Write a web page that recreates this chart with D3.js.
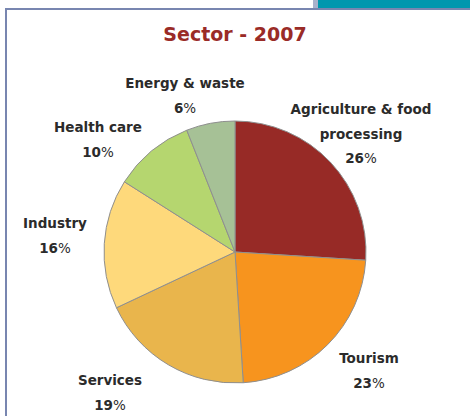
<!DOCTYPE html>
<html><head><meta charset="utf-8">
<script src="https://cdn.jsdelivr.net/npm/d3@7"></script>
<style>html,body{margin:0;padding:0;background:#fff;}svg{display:block;}</style>
</head><body>
<script>
const title = "Sector - 2007";
const categories = ["Agriculture & food processing", "Tourism", "Services", "Industry", "Health care", "Energy & waste"];
const values = [26, 23, 19, 16, 10, 6];
const colors = ["#972A26", "#F7941E", "#E9B54C", "#FED97B", "#B5D66F", "#A6C196"];
const labelLines = [["Agriculture & food", "processing"], ["Tourism"], ["Services"], ["Industry"], ["Health care"], ["Energy & waste"]];

const W = 470, H = 416;
const svg = d3.select("body").append("svg").attr("width", W).attr("height", H);

// frame
svg.append("rect").attr("x", 5).attr("y", 8).attr("width", W).attr("height", 2).attr("fill", "#7886B0");
svg.append("rect").attr("x", 5).attr("y", 8).attr("width", 2).attr("height", H).attr("fill", "#7886B0");
svg.append("rect").attr("x", 313).attr("y", 0).attr("width", 5).attr("height", 8).attr("fill", "#A9B2CC");
svg.append("rect").attr("x", 318).attr("y", 0).attr("width", W - 318).attr("height", 8).attr("fill", "#0097AE");

const FONT = "DejaVu Sans, Verdana, sans-serif";
svg.append("text").attr("x", 235).attr("y", 41).attr("text-anchor", "middle")
  .attr("font-family", FONT).attr("font-weight", "bold")
  .attr("font-size", 19).attr("fill", "#9A2B27").text(title);

const cx = 235, cy = 252, r = 131;
const pie = d3.pie().sort(null).value(d => d)(values);
const arc = d3.arc().innerRadius(0).outerRadius(r);
const g = svg.append("g").attr("transform", `translate(${cx},${cy})`);
g.selectAll("path").data(pie).join("path").attr("d", arc)
  .attr("fill", (d, i) => colors[i]).attr("stroke", "#8f8f8f").attr("stroke-width", 1);

// label layout: offset of each label block (centre x, first baseline) from the pie centre
const labelOffset = [[126, -138], [134, 111], [-125, 133], [-180, -24], [-137, -120], [-50, -164]];
const lineH = 24.5;
const txt = svg.append("g").attr("font-family", FONT)
  .attr("font-weight", "bold").attr("font-size", 13.5).attr("fill", "#2b2b2b").attr("text-anchor", "middle");
pie.forEach((d, i) => {
  const x = cx + labelOffset[i][0];
  const y0 = cy + labelOffset[i][1];
  const lines = labelLines[i];
  lines.forEach((l, j) => {
    txt.append("text").attr("x", x).attr("y", y0 + j * lineH).text(l);
  });
  const t = txt.append("text").attr("x", x).attr("y", y0 + lines.length * lineH);
  t.append("tspan").text(values[i]);
  t.append("tspan").attr("font-weight", "normal").text("%");
});
</script>
</body></html>
